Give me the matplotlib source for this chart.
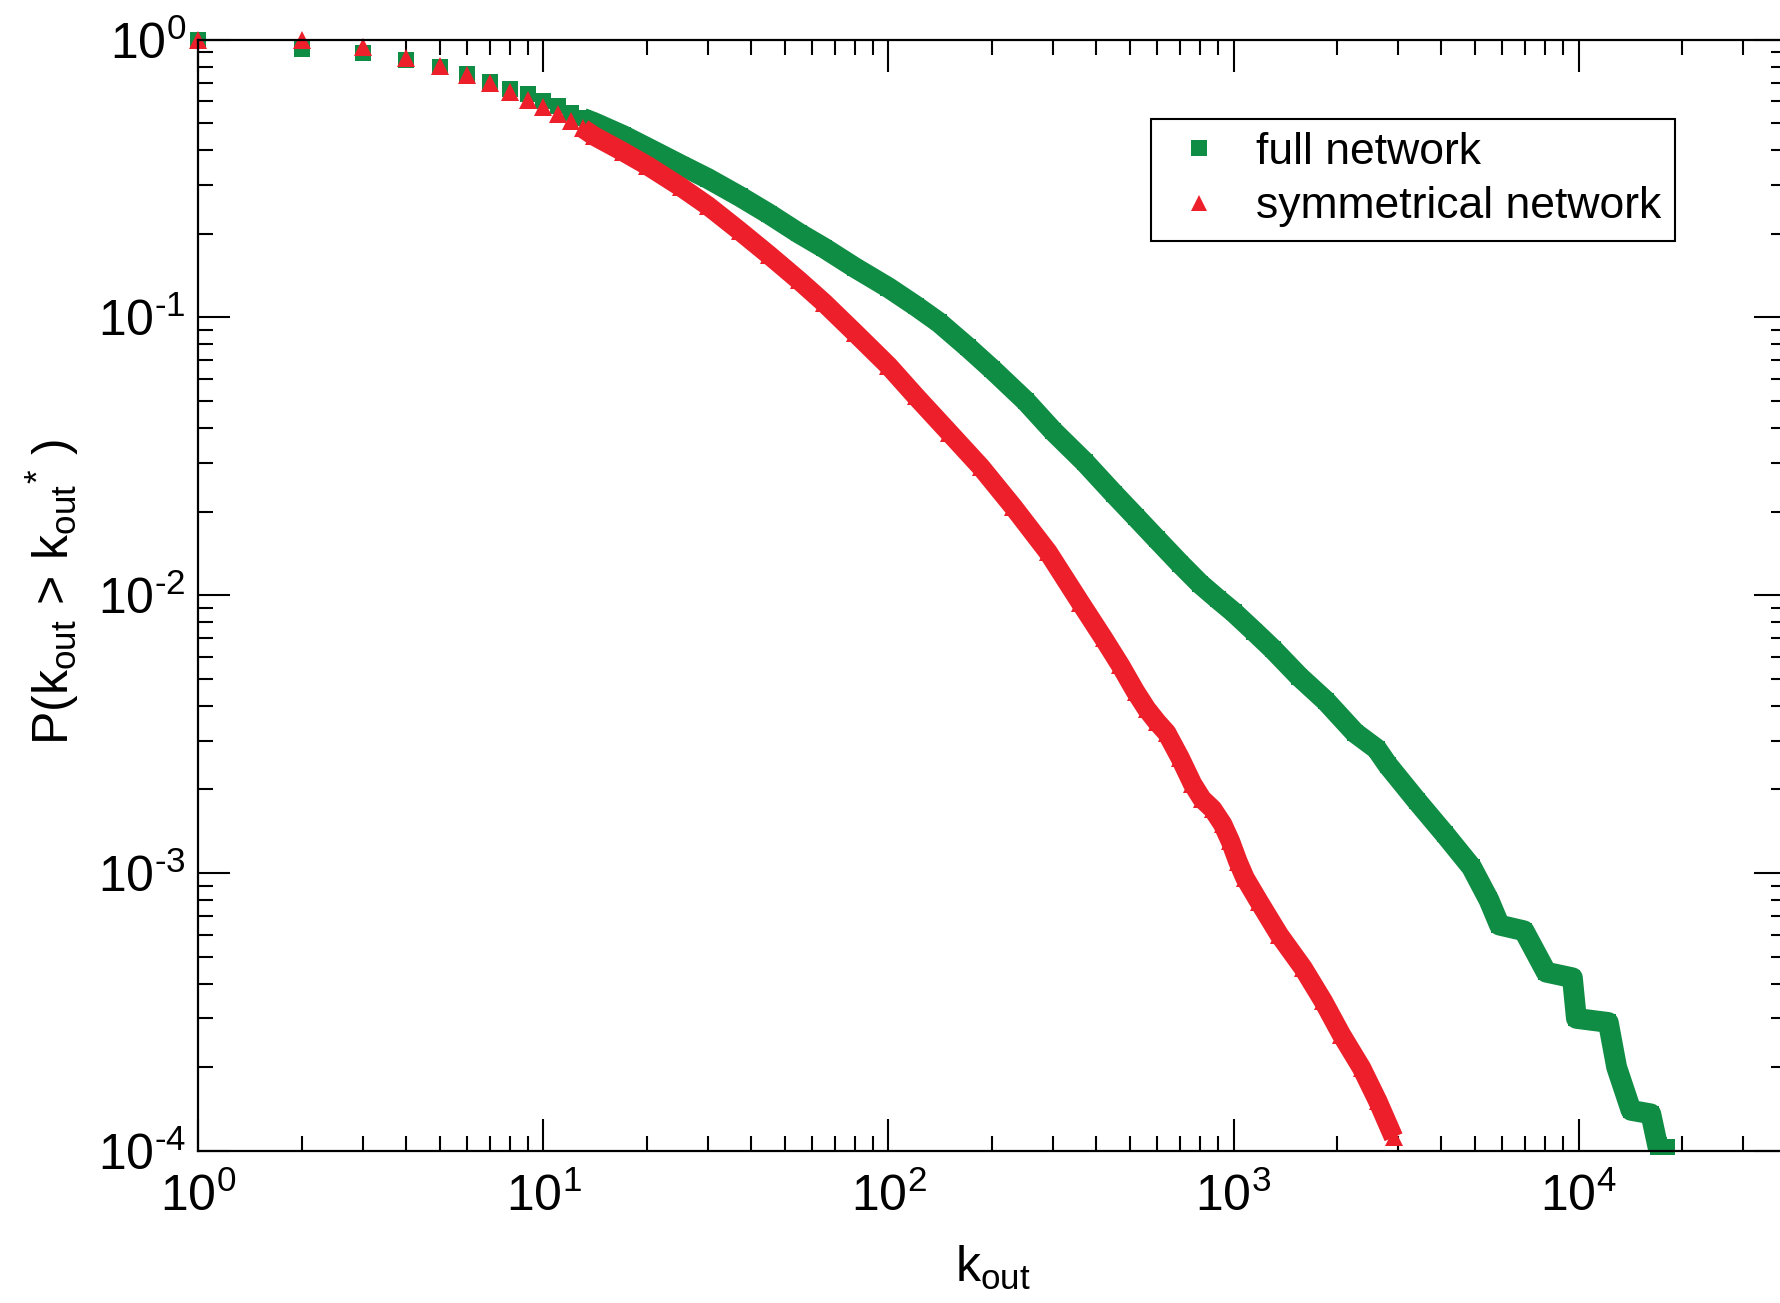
import numpy as np
import matplotlib
matplotlib.use("Agg")
import matplotlib.pyplot as plt
from matplotlib.ticker import FuncFormatter

plt.rcParams['font.family'] = ['Liberation Sans', 'DejaVu Sans']
plt.rcParams['mathtext.fontset'] = 'custom'
plt.rcParams['mathtext.rm'] = 'Liberation Sans'
plt.rcParams['mathtext.it'] = 'Liberation Sans:italic'
plt.rcParams['mathtext.default'] = 'regular'

# ---- data: cumulative out-degree distribution ----
k_full = [1, 2, 3, 4, 5, 6, 7, 8, 9, 10, 11, 12, 13, 14,
          17, 20, 25, 30, 37, 45, 55, 65, 80, 100, 120, 140, 170, 200, 250,
          300, 370, 450, 520, 600, 700, 800, 900, 1000, 1150, 1300, 1550,
          1850, 2250, 2600, 2800, 3400, 4100, 4900, 5500, 5900, 6950,
          8060, 9600, 9860, 12200, 12900, 14200, 16200, 17000, 18000]
p_full = [1.0, 0.923, 0.893, 0.845, 0.795, 0.755, 0.704, 0.666, 0.635, 0.603,
          0.575, 0.546, 0.521, 0.503,
          0.452, 0.408, 0.354, 0.316, 0.273, 0.236, 0.201, 0.178, 0.151, 0.128,
          0.110, 0.096, 0.078, 0.065, 0.050,
          0.039, 0.0302, 0.0232, 0.0192, 0.0159, 0.013, 0.011, 0.0097,
          0.0087, 0.0074, 6.4e-3, 5.1e-3,
          4.17e-3, 3.2e-3, 2.8e-3, 2.45e-3, 1.82e-3, 1.38e-3, 1.05e-3,
          8.0e-4, 6.5e-4, 6.2e-4,
          4.4e-4, 4.2e-4, 3.0e-4, 2.9e-4, 2.0e-4, 1.4e-4, 1.36e-4, 1.03e-4, 1.03e-4]

k_sym = [1, 2, 3, 4, 5, 6, 7, 8, 9, 10, 11, 12, 13, 14,
         17, 20, 25, 30, 37, 45, 55, 65, 80, 100, 120, 150, 185, 230, 290,
         360, 420, 470, 520, 560, 600, 640, 700, 760, 810, 870, 930, 980,
         1030, 1080, 1185, 1356, 1590, 1820, 2055, 2350, 2620, 2910]
p_sym = [1.0, 1.0, 0.938, 0.859, 0.806, 0.748, 0.698, 0.650, 0.608, 0.572,
         0.539, 0.508, 0.479, 0.450,
         0.395, 0.352, 0.295, 0.252, 0.205, 0.168, 0.136, 0.113, 0.088, 0.067,
         0.052, 0.0385, 0.029, 0.0208, 0.0143,
         9.4e-3, 7.0e-3, 5.6e-3, 4.5e-3, 3.9e-3, 3.5e-3, 3.2e-3, 2.6e-3,
         2.1e-3, 1.85e-3, 1.7e-3, 1.5e-3, 1.3e-3,
         1.1e-3, 9.6e-4, 7.9e-4, 6.0e-4, 4.56e-4, 3.46e-4, 2.62e-4, 1.99e-4,
         1.51e-4, 1.12e-4]

green = '#108d44'
red = '#ed1f2a'

fig = plt.figure(figsize=(17.8, 13.03), dpi=100)
ax = fig.add_axes([0.1115, 0.1167, 0.892, 0.8529])

# dense part of each curve drawn as a thick band, markers on top
kf, pf = np.array(k_full), np.array(p_full)
ks, ps = np.array(k_sym), np.array(p_sym)
ax.plot(kf[kf >= 13], pf[kf >= 13], '-', color=green, lw=15,
        solid_capstyle='butt', solid_joinstyle='round')
ax.plot(kf, pf, 's', color=green, ms=11.5, mew=0, label='full network',
        clip_on=False)
ax.plot(ks[ks >= 13], ps[ks >= 13], '-', color=red, lw=14,
        solid_capstyle='butt', solid_joinstyle='round')
ax.plot(ks, ps, '^', color=red, ms=13.5, mew=0, label='symmetrical network',
        clip_on=False)

ax.set_xscale('log')
ax.set_yscale('log')
ax.set_xlim(1, 4e4)
ax.set_ylim(1e-4, 1)


def pow_label(v, pos):
    e = int(round(np.log10(v)))
    return r'$\mathregular{10^{%s}}$' % str(e).replace('-', '\u2010')


ax.xaxis.set_major_formatter(FuncFormatter(pow_label))
ax.yaxis.set_major_formatter(FuncFormatter(pow_label))

for s in ax.spines.values():
    s.set_linewidth(1.6)
ax.tick_params(which='both', direction='in', top=True, right=True, width=1.5,
               labelsize=36)
ax.tick_params(which='major', length=23)
ax.tick_params(which='minor', length=11)
ax.tick_params(axis='x', pad=16)
ax.tick_params(axis='y', pad=9)

fig.text(0.0292, 0.5453, r'$\mathregular{P(k_{out}\,>\,k_{out}{}^{*}\ )}$',
         rotation=90, ha='center', va='center', fontsize=36)
fig.text(993 / 1780, 0.027, r'$\mathregular{k_{out}}$',
         ha='center', va='center', fontsize=36)

leg = ax.legend(loc='upper left', bbox_to_anchor=(0.6, 0.929), fontsize=32,
                numpoints=1, fancybox=False, framealpha=1, edgecolor='black',
                borderpad=0.3, labelspacing=0.3, handlelength=1.55,
                handletextpad=0.52, borderaxespad=0)
leg.get_frame().set_linewidth(1.5)
for h in leg.legend_handles:
    h.set_markersize(11.5)

fig.savefig('out.png', dpi=100)
